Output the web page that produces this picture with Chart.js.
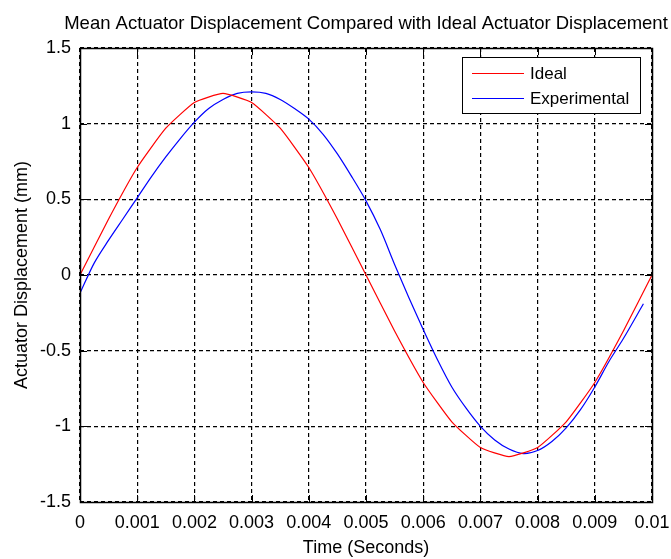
<!DOCTYPE html>
<html>
<head>
<meta charset="utf-8">
<script src="https://cdn.jsdelivr.net/npm/chart.js@4.4.0/dist/chart.umd.min.js"></script>
<style>
  html, body { margin: 0; padding: 0; background: #fff; }
</style>
</head>
<body>
<canvas id="chart" width="671" height="559"></canvas>
<script>
const titleText = 'Mean Actuator Displacement Compared with Ideal Actuator Displacement'

// ideal curve, sampled every 0.5 ms
const idealTime = [0, 0.0005, 0.001, 0.0015, 0.002, 0.0025, 0.003, 0.0035, 0.004, 0.0045, 0.005,
    0.0055, 0.006, 0.0065, 0.007, 0.0075, 0.008, 0.0085, 0.009, 0.0095, 0.01]
const ideal = [0, 0.37, 0.71, 0.97, 1.14, 1.2, 1.14, 0.97, 0.71, 0.37, 0,
    -0.37, -0.71, -0.97, -1.14, -1.2, -1.14, -0.97, -0.71, -0.37, 0]

// measured (mean) curve
const expTime = [0, 0.00025, 0.0005, 0.00075, 0.001, 0.00125, 0.0015, 0.00175, 0.002, 0.00225,
    0.0025, 0.00275, 0.003, 0.00325, 0.0035, 0.00375, 0.004, 0.00425, 0.0045, 0.00475,
    0.005, 0.00525, 0.0055, 0.00575, 0.006, 0.00625, 0.0065, 0.00675, 0.007, 0.00725,
    0.0075, 0.00775, 0.008, 0.00825, 0.0085, 0.00875, 0.009, 0.00925, 0.0095, 0.00985]
const experimental = [-0.12, 0.08, 0.23, 0.37, 0.51, 0.65, 0.78, 0.9, 1.01, 1.1,
    1.16, 1.2, 1.21, 1.2, 1.16, 1.1, 1.03, 0.93, 0.8, 0.65,
    0.49, 0.3, 0.07, -0.15, -0.36, -0.56, -0.74, -0.88, -1.0, -1.09,
    -1.15, -1.18, -1.16, -1.1, -1.01, -0.89, -0.74, -0.57, -0.42, -0.19]

const xTickLabels = ['0', '0.001', '0.002', '0.003', '0.004', '0.005', '0.006', '0.007', '0.008', '0.009', '0.01']
const yTickLabels = ['-1.5', '-1', '-0.5', '0', '0.5', '1', '1.5']

const FONT = '"Liberation Sans", Arial, sans-serif'
Chart.defaults.font.family = FONT
Chart.defaults.color = '#000'

const toPoints = (xs, ys) => ys.map((y, i) => ({x: xs[i], y: y}))

// box, inner ticks, title and legend in matlab style
const matlabDecor = {
    id: 'matlabDecor',
    afterDatasetsDraw(chart) {
        const ctx = chart.ctx
        const a = chart.chartArea
        const xs = chart.scales.x
        const ys = chart.scales.y
        ctx.save()
        ctx.strokeStyle = '#000'
        ctx.lineWidth = 1
        ctx.setLineDash([])
        ctx.beginPath()
        xs.ticks.forEach(t => {
            const px = Math.round(xs.getPixelForValue(t.value)) + 0.5
            ctx.moveTo(px, a.bottom); ctx.lineTo(px, a.bottom - 7)
            ctx.moveTo(px, a.top); ctx.lineTo(px, a.top + 7)
        })
        ys.ticks.forEach(t => {
            const py = Math.round(ys.getPixelForValue(t.value)) + 0.5
            ctx.moveTo(a.left, py); ctx.lineTo(a.left + 7, py)
            ctx.moveTo(a.right, py); ctx.lineTo(a.right - 7, py)
        })
        ctx.stroke()
        ctx.lineWidth = 1.5
        ctx.strokeRect(Math.round(a.left) + 0.5, Math.round(a.top) + 0.5,
            Math.round(a.right - a.left), Math.round(a.bottom - a.top))
        ctx.lineWidth = 1

        // title
        ctx.fillStyle = '#000'
        ctx.font = '18.5px ' + FONT
        ctx.textAlign = 'center'
        ctx.textBaseline = 'middle'
        ctx.fillText(titleText, (a.left + a.right) / 2, 24)

        // legend
        const lx = a.right - 190, ly = 57, lw = 178, lh = 56
        ctx.fillStyle = '#fff'
        ctx.fillRect(lx, ly, lw, lh)
        ctx.strokeRect(lx + 0.5, ly + 0.5, lw, lh)
        ctx.font = '17px ' + FONT
        ctx.textAlign = 'left'
        chart.data.datasets.forEach((ds, i) => {
            const cy = ly + 16 + i * 25
            ctx.strokeStyle = ds.borderColor
            ctx.beginPath()
            ctx.moveTo(lx + 10, cy + 0.5); ctx.lineTo(lx + 62, cy + 0.5)
            ctx.stroke()
            ctx.fillStyle = '#000'
            ctx.fillText(ds.label, lx + 68, cy + 1)
        })
        ctx.restore()
    }
}

new Chart(document.getElementById('chart'), {
    type: 'line',
    data: {
        datasets: [
            {
                label: 'Ideal',
                data: toPoints(idealTime, ideal),
                borderColor: '#ff0000',
                borderWidth: 1.2,
                pointRadius: 0,
                tension: 0.15
            },
            {
                label: 'Experimental',
                data: toPoints(expTime, experimental),
                borderColor: '#0000ff',
                borderWidth: 1.2,
                pointRadius: 0,
                tension: 0.3
            }
        ]
    },
    options: {
        responsive: false,
        animation: false,
        layout: {padding: {top: 48, right: 19, bottom: 0, left: 0}},
        plugins: {
            legend: {display: false},
            title: {display: false},
            tooltip: {enabled: false}
        },
        scales: {
            x: {
                type: 'linear',
                min: 0,
                max: 0.01,
                ticks: {
                    stepSize: 0.001,
                    autoSkip: false,
                    maxRotation: 0,
                    padding: 10,
                    font: {size: 18},
                    callback: (v, i) => xTickLabels[i]
                },
                grid: {color: '#000', lineWidth: 1.2, drawTicks: false},
                border: {display: false, dash: [4, 3]},
                title: {display: true, text: 'Time (Seconds)', font: {size: 18}, padding: {top: 0, bottom: 0}},
                afterFit: s => {
                    s.height = 57
                    s.paddingLeft = 0
                    s.paddingRight = 0
                }
            },
            y: {
                min: -1.5,
                max: 1.5,
                ticks: {
                    stepSize: 0.5,
                    padding: 9,
                    font: {size: 18},
                    callback: (v, i) => yTickLabels[i]
                },
                grid: {color: '#000', lineWidth: 1.2, drawTicks: false},
                border: {display: false, dash: [4, 3]},
                title: {display: true, text: 'Actuator Displacement (mm)', font: {size: 18}, padding: {top: 11, bottom: 0}},
                afterFit: s => {
                    s.width = 80
                    s.paddingTop = 0
                    s.paddingBottom = 0
                }
            }
        }
    },
    plugins: [matlabDecor]
})
</script>
</body>
</html>
